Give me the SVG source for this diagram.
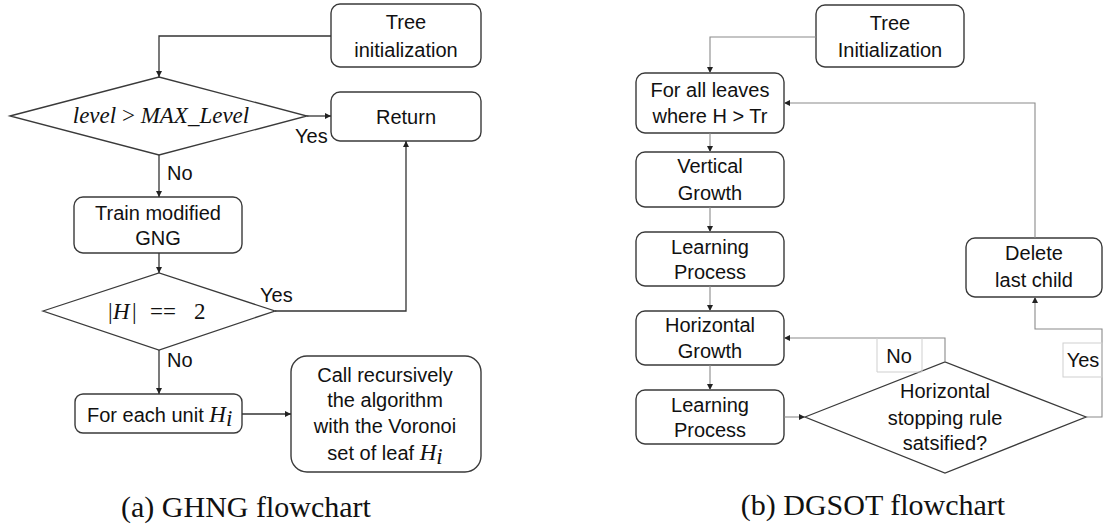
<svg xmlns="http://www.w3.org/2000/svg" width="1103" height="527" viewBox="0 0 1103 527">
  <style>
    .box { fill: #ffffff; stroke: #3a3a3a; stroke-width: 1.4; }
    .dia { fill: #ffffff; stroke: #3a3a3a; stroke-width: 1.3; }
    .lbl { font-family: "Liberation Sans", Arial, sans-serif; font-size: 20px; fill: #111; text-anchor: middle; }
    .tag { font-family: "Liberation Sans", Arial, sans-serif; font-size: 20px; fill: #111; }
    .math { font-family: "Liberation Serif", "DejaVu Serif", serif; font-size: 23px; fill: #111; }
    .it { font-style: italic; }
    .cap { font-family: "Liberation Serif", "DejaVu Serif", serif; font-size: 30px; fill: #111; text-anchor: middle; }
    .ca { fill: none; stroke: #333; stroke-width: 1.3; }
    .cb { fill: none; stroke: #8a8a8a; stroke-width: 1.1; }
    .tagbox { fill: none; stroke: #cfcfcf; stroke-width: 1; }
  </style>
  <defs>
    <marker id="ah" markerUnits="userSpaceOnUse" markerWidth="7" markerHeight="7" refX="6" refY="3" orient="auto">
      <path d="M0,0 L6,3 L0,6 z" fill="#222"/>
    </marker>
  </defs>

  <!-- (a) GHNG flowchart -->
  <g id="a-tree-init">
    <rect class="box" x="331" y="4" width="150" height="63" rx="9"/>
    <text class="lbl" x="406" y="29">Tree</text>
    <text class="lbl" x="406" y="57">initialization</text>
  </g>
  <g id="a-level-check">
    <polygon class="dia" points="10,116 159,77 307,116 159,155"/>
    <text class="math it" x="161" y="123" text-anchor="middle">level <tspan font-style="normal">&gt;</tspan> MAX_Level</text>
  </g>
  <g id="a-return">
    <rect class="box" x="331" y="92" width="150" height="49" rx="9"/>
    <text class="lbl" x="406" y="124">Return</text>
  </g>
  <g id="a-train">
    <rect class="box" x="74" y="197" width="168" height="56" rx="9"/>
    <text class="lbl" x="158" y="220">Train modified</text>
    <text class="lbl" x="158" y="245">GNG</text>
  </g>
  <g id="a-size-check">
    <polygon class="dia" points="43,311 159,273 275,311 159,350"/>
    <text class="math" y="319"><tspan x="108">|</tspan><tspan x="113" class="it">H</tspan><tspan x="132">|</tspan><tspan x="150">==</tspan><tspan x="194">2</tspan></text>
  </g>
  <g id="a-for-each">
    <rect class="box" x="75" y="394" width="167" height="39" rx="8"/>
    <text class="tag" x="87" y="422">For each unit <tspan class="math it">H</tspan><tspan class="math it" font-size="15" dy="4">i</tspan></text>
  </g>
  <g id="a-recurse">
    <rect class="box" x="291" y="356" width="190" height="116" rx="16"/>
    <text class="lbl" x="385" y="382">Call recursively</text>
    <text class="lbl" x="385" y="407">the algorithm</text>
    <text class="lbl" x="385" y="433">with the Voronoi</text>
    <text class="lbl" x="385" y="460">set of leaf <tspan class="math it">H</tspan><tspan class="math it" font-size="15" dy="4">i</tspan></text>
  </g>
  <g id="a-connectors">
    <path class="ca" d="M331,36 H159 V77" marker-end="url(#ah)"/>
    <path class="ca" d="M307,116 H331" marker-end="url(#ah)"/>
    <path class="ca" d="M159,155 V197" marker-end="url(#ah)"/>
    <path class="ca" d="M159,253 V273" marker-end="url(#ah)"/>
    <path class="ca" d="M275,311 H406 V141" marker-end="url(#ah)"/>
    <path class="ca" d="M159,350 V394" marker-end="url(#ah)"/>
    <path class="ca" d="M242,414 H291" marker-end="url(#ah)"/>
    <text class="tag" x="295" y="143">Yes</text>
    <text class="tag" x="167" y="180">No</text>
    <text class="tag" x="260" y="302">Yes</text>
    <text class="tag" x="167" y="367">No</text>
  </g>
  <text class="cap" x="246" y="517">(a) GHNG flowchart</text>

  <!-- (b) DGSOT flowchart -->
  <g id="b-tree-init">
    <rect class="box" x="816" y="5" width="148" height="62" rx="9"/>
    <text class="lbl" x="890" y="30">Tree</text>
    <text class="lbl" x="890" y="57">Initialization</text>
  </g>
  <g id="b-leaves">
    <rect class="box" x="636" y="73" width="148" height="60" rx="9"/>
    <text class="lbl" x="710" y="97">For all leaves</text>
    <text class="lbl" x="710" y="123">where H &gt; Tr</text>
  </g>
  <g id="b-vertical">
    <rect class="box" x="636" y="152" width="148" height="55" rx="9"/>
    <text class="lbl" x="710" y="173">Vertical</text>
    <text class="lbl" x="710" y="200">Growth</text>
  </g>
  <g id="b-learn-1">
    <rect class="box" x="636" y="232" width="148" height="54" rx="9"/>
    <text class="lbl" x="710" y="254">Learning</text>
    <text class="lbl" x="710" y="279">Process</text>
  </g>
  <g id="b-horizontal">
    <rect class="box" x="636" y="311" width="148" height="54" rx="9"/>
    <text class="lbl" x="710" y="332">Horizontal</text>
    <text class="lbl" x="710" y="358">Growth</text>
  </g>
  <g id="b-learn-2">
    <rect class="box" x="636" y="390" width="148" height="54" rx="9"/>
    <text class="lbl" x="710" y="412">Learning</text>
    <text class="lbl" x="710" y="437">Process</text>
  </g>
  <g id="b-stop-check">
    <polygon class="dia" points="805,417 945,362 1086,417 945,473"/>
    <text class="lbl" x="945" y="398">Horizontal</text>
    <text class="lbl" x="945" y="425">stopping rule</text>
    <text class="lbl" x="945" y="450">satsified?</text>
  </g>
  <g id="b-delete">
    <rect class="box" x="966" y="238" width="136" height="59" rx="9"/>
    <text class="lbl" x="1034" y="260">Delete</text>
    <text class="lbl" x="1034" y="287">last child</text>
  </g>
  <g id="b-connectors">
    <path class="cb" d="M816,37 H710 V73" marker-end="url(#ah)"/>
    <path class="cb" d="M710,133 V152" marker-end="url(#ah)"/>
    <path class="cb" d="M710,207 V232" marker-end="url(#ah)"/>
    <path class="cb" d="M710,286 V311" marker-end="url(#ah)"/>
    <path class="cb" d="M710,365 V390" marker-end="url(#ah)"/>
    <path class="cb" d="M784,417 H805" marker-end="url(#ah)"/>
    <path class="cb" d="M945,362 V338 H784" marker-end="url(#ah)"/>
    <path class="cb" d="M1086,417 H1102 V329 H1035 V297" marker-end="url(#ah)"/>
    <path class="cb" d="M1035,238 V103 H784" marker-end="url(#ah)"/>
    <path class="tagbox" d="M877,338 V372 H922 V338"/>
    <text class="lbl" x="899" y="363">No</text>
    <rect class="tagbox" x="1063" y="343" width="39" height="34"/>
    <text class="lbl" x="1083" y="367">Yes</text>
  </g>
  <text class="cap" x="873" y="515">(b) DGSOT flowchart</text>
</svg>
